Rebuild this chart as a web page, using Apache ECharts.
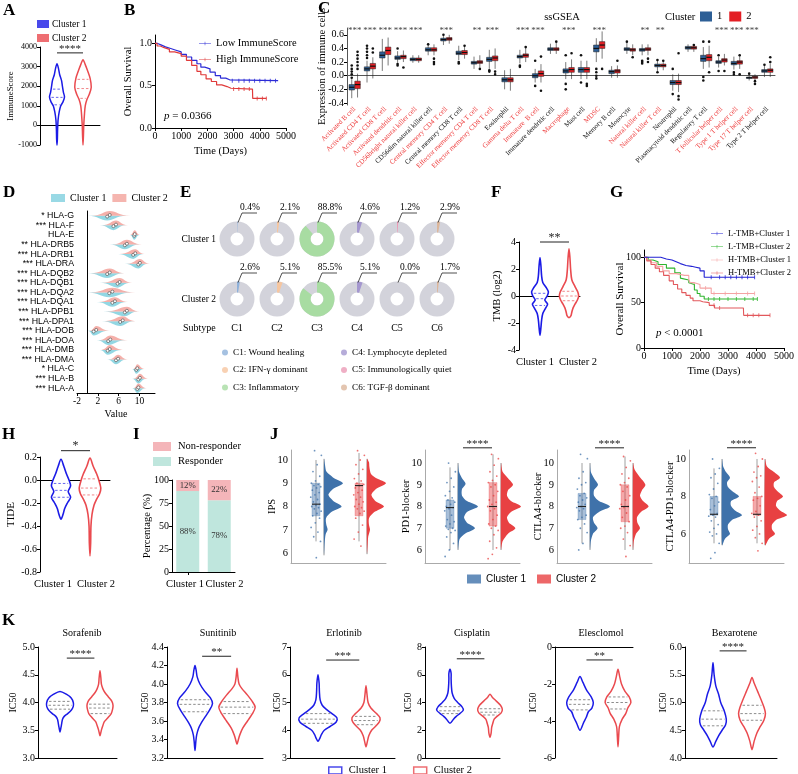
<!DOCTYPE html>
<html><head><meta charset="utf-8">
<script src="https://cdn.jsdelivr.net/npm/echarts@6/dist/echarts.min.js"></script>
<style>html,body{margin:0;padding:0;background:#fff}#c{width:798px;height:774px}</style>
</head><body><div id="c"></div>
<script>
// ================= DATA =================
const GROUPS = ['Cluster 1', 'Cluster 2'];
// A: ImmuneScore violins  [value, relative density]
const A_c1_profile = [[3150,0],[2900,0.2],[2600,0.35],[2300,0.6],[2000,0.72],[1700,0.85],[1450,1.0],[1200,0.8],[1000,0.5],[700,0.3],[300,0.15],[-200,0.08],[-700,0.05],[-1000,0]];
const A_c2_profile = [[3350,0],[3100,0.3],[2800,0.6],[2400,0.95],[1950,1.1],[1600,0.85],[1300,0.5],[1000,0.3],[600,0.2],[0,0.1],[-500,0.06],[-1000,0]];
const A_c1_quart = [1050,1430,1850];
const A_c2_quart = [1380,1880,2350];
const A_ticks = [-1000,0,1000,2000,3000,4000];
const A_sig = '****';
// B: KM curves  [time, survival]
const B_names = ['Low ImmuneScore','High ImmuneScore'];
const B_low = [[0,1],[100,0.98],[250,0.96],[400,0.94],[600,0.92],[800,0.9],[1000,0.87],[1200,0.84],[1400,0.8],[1600,0.76],[1750,0.72],[1900,0.7],[2100,0.66],[2300,0.62],[2500,0.59],[2700,0.57],[2850,0.56],[4700,0.56]];
const B_high = [[0,1],[80,0.97],[200,0.95],[350,0.93],[550,0.9],[750,0.88],[1000,0.85],[1200,0.8],[1400,0.74],[1600,0.67],[1750,0.63],[1950,0.58],[2150,0.55],[2350,0.51],[2550,0.49],[2750,0.47],[2900,0.46],[3720,0.46],[3730,0.35],[4250,0.35]];
const B_low_censor = [2950,3200,3400,3600,3800,4000,4200,4400,4600];
const B_high_censor = [3000,3200,3400,3600,3900,4100,4250];
const B_pval = '0.0366';
// C: ssGSEA boxplots [min,q1,median,q3,max]
const C_cats = ['Activated B cell','Activated CD4 T cell','Activated CD8 T cell','Activated dendritic cell','CD56bright natural killer cell','CD56dim natural killer cell','Central memory CD4 T cell','Central memory CD8 T cell','Effector memeory CD4 T cell','Effector memeory CD8 T cell','Eosinophil','Gamma delta T cell','Immature  B cell','Immature dendritic cell','Macrophage','Mast cell','MDSC','Memory B cell','Monocyte','Natural killer cell','Natural killer T cell','Neutrophil','Plasmacytoid dendritic cell','Regulatory T cell','T follicular helper cell','Type 1 T helper cell','Type 17 T helper cell','Type 2 T helper cell'];
const C_sig = ['***','***','***','***','***','','***','','**','***','','***','***','','***','','***','','','**','**','','','','***','***','***',''];
const C_c1 = [[-0.33,-0.21,-0.17,-0.13,-0.05],[-0.1,0.07,0.1,0.13,0.22],[0.07,0.26,0.3,0.35,0.54],[0.19,0.24,0.26,0.29,0.36],[0.19,0.22,0.24,0.26,0.3],[0.3,0.36,0.38,0.41,0.47],[0.45,0.51,0.53,0.55,0.6],[0.23,0.31,0.33,0.36,0.44],[0.1,0.17,0.19,0.21,0.28],[0.1,0.21,0.24,0.27,0.38],[-0.2,-0.09,-0.06,-0.03,0.08],[0.18,0.26,0.28,0.3,0.38],[-0.1,-0.03,0.0,0.03,0.1],[0.32,0.37,0.39,0.41,0.47],[-0.05,0.04,0.07,0.1,0.2],[-0.05,0.05,0.09,0.12,0.22],[0.2,0.35,0.4,0.45,0.55],[-0.03,0.03,0.06,0.08,0.14],[0.32,0.37,0.39,0.41,0.48],[0.3,0.36,0.38,0.4,0.46],[0.07,0.13,0.15,0.17,0.22],[-0.22,-0.13,-0.1,-0.07,0.02],[0.35,0.39,0.41,0.43,0.46],[0.1,0.21,0.25,0.3,0.42],[0.12,0.18,0.2,0.22,0.28],[0.09,0.16,0.18,0.21,0.28],[-0.07,-0.04,-0.03,-0.02,0.01],[-0.02,0.05,0.07,0.09,0.16]];
const C_c2 = [[-0.32,-0.19,-0.13,-0.08,0.03],[-0.04,0.1,0.14,0.18,0.27],[0.15,0.31,0.37,0.42,0.56],[0.2,0.25,0.28,0.3,0.37],[0.19,0.22,0.24,0.26,0.3],[0.3,0.36,0.38,0.41,0.46],[0.47,0.52,0.54,0.56,0.6],[0.25,0.31,0.34,0.37,0.44],[0.12,0.18,0.2,0.22,0.3],[0.1,0.22,0.26,0.29,0.4],[-0.22,-0.09,-0.06,-0.03,0.1],[0.2,0.27,0.3,0.32,0.42],[-0.1,-0.01,0.03,0.07,0.17],[0.32,0.37,0.39,0.41,0.48],[-0.05,0.05,0.09,0.12,0.24],[-0.05,0.05,0.09,0.12,0.22],[0.25,0.4,0.45,0.5,0.65],[-0.03,0.04,0.07,0.09,0.15],[0.3,0.36,0.38,0.4,0.46],[0.3,0.37,0.39,0.41,0.46],[0.08,0.13,0.15,0.17,0.22],[-0.24,-0.13,-0.1,-0.07,0.03],[0.35,0.39,0.41,0.43,0.46],[0.12,0.22,0.27,0.31,0.44],[0.15,0.2,0.23,0.25,0.32],[0.1,0.17,0.2,0.22,0.29],[-0.08,-0.04,-0.02,-0.01,0.02],[-0.02,0.05,0.08,0.1,0.18]];
const C_out1 = [[0,-0.03],[0,0.02],[0,0.06],[0,0.1],[0,0.15],[1,0.26],[1,0.3],[1,0.35],[1,0.4],[1,0.44],[3,0.4],[3,0.17],[3,0.15],[5,0.46],[6,0.6],[7,0.18],[7,0.2],[9,0.06],[9,0.08],[11,0.13],[11,0.15],[12,0.22],[12,-0.15],[14,0.3],[14,-0.12],[14,-0.2],[15,0.3],[15,-0.1],[16,0.1],[16,0.05],[16,0.0],[16,-0.04],[18,0.5],[19,0.22],[19,0.2],[19,0.18],[20,0.23],[20,0.05],[21,-0.27],[21,0.1],[23,0.5],[23,-0.02],[23,-0.07],[24,0.3],[24,0.07],[25,0.02],[25,0.05],[26,0.03],[27,0.16]];
const C_out2 = [[0,0.1],[0,0.15],[0,0.2],[0,0.25],[0,0.3],[0,0.35],[1,0.34],[1,0.4],[3,0.12],[5,0.2],[5,0.17],[5,0.25],[7,0.44],[8,0.1],[9,0.02],[9,0.06],[11,0.42],[12,0.28],[12,-0.22],[13,0.5],[14,0.33],[15,-0.15],[15,-0.12],[16,0.1],[17,0.22],[18,0.27],[19,0.2],[19,0.25],[20,0.22],[21,0.33],[21,-0.35],[21,-0.3],[22,0.45],[23,0.5],[23,0.05],[24,0.07],[25,0.02],[25,0.3],[26,-0.12],[26,-0.08],[27,0.27],[27,0.2]];
const C_ticks = [-0.4,-0.2,0.0,0.2,0.4,0.6];
// D: HLA split violins [low, peak, high]
const D_genes = ['HLA-G','HLA-F','HLA-E','HLA-DRB5','HLA-DRB1','HLA-DRA','HLA-DQB2','HLA-DQB1','HLA-DQA2','HLA-DQA1','HLA-DPB1','HLA-DPA1','HLA-DOB','HLA-DOA','HLA-DMB','HLA-DMA','HLA-C','HLA-B','HLA-A'];
const D_sig = ['*','***','','**','***','***','***','***','***','***','***','***','***','***','***','***','*','***','***'];
const D_c1 = [[0.1,3.8,7.5],[2.4,5.0,7.4],[8.2,9.0,10.0],[4.3,7.2,10.0],[5.9,8.8,10.8],[7.2,9.8,11.6],[0.1,3.8,7.0],[2.4,5.8,8.3],[-0.1,4.2,8.6],[1.8,4.8,7.5],[3.0,7.2,9.7],[2.8,6.3,9.0],[0.1,1.2,4.0],[1.8,4.0,7.4],[2.4,3.9,6.5],[3.8,5.5,7.5],[8.6,9.4,10.8],[8.6,9.8,11.3],[8.6,9.6,11.2]];
const D_c2 = [[0.8,4.3,8.2],[2.8,5.5,7.8],[8.2,9.1,10.1],[4.8,7.6,10.5],[6.2,9.2,11.0],[7.6,10.1,12.0],[0.6,4.3,7.2],[2.8,6.2,8.6],[0.4,4.8,9.2],[2.2,5.3,7.8],[3.5,7.6,10.0],[3.3,6.8,9.2],[0.4,1.7,4.3],[2.2,4.4,7.8],[2.7,4.3,6.8],[4.1,5.9,7.8],[8.8,9.6,11.0],[8.9,10.1,11.6],[8.8,9.8,11.4]];
const D_ticks = [-2,2,6,10];
// E: immune subtypes (%)
const E_subtypes = ['C1','C2','C3','C4','C5','C6'];
const E_names = ['C1: Wound healing','C2: IFN-γ dominant','C3: Inflammatory','C4: Lymphocyte depleted','C5: Immunologically quiet','C6: TGF-β dominant'];
const E_c1 = [0.4, 2.1, 88.8, 4.6, 1.2, 2.9];
const E_c2 = [2.6, 5.1, 85.5, 5.1, 0.0, 1.7];
// F: TMB violins
const F_c1_profile = [[2.85,0],[2.2,0.12],[1.5,0.2],[1.0,0.35],[0.6,0.8],[0.3,1.05],[0,0.9],[-0.3,0.6],[-0.6,0.95],[-0.9,0.7],[-1.3,0.35],[-1.8,0.2],[-2.3,0.12],[-2.9,0]];
const F_c2_profile = [[3.5,0],[2.8,0.12],[2.0,0.2],[1.2,0.35],[0.7,0.75],[0.3,1.1],[0,1.2],[-0.3,1.05],[-0.6,0.75],[-0.9,0.5],[-1.2,0.35],[-1.45,0.25],[-1.6,0]];
const F_c1_quart = [-0.7,-0.2,0.2];
const F_c2_quart = [-0.35,0,0.35];
const F_ticks = [-4,-2,0,2,4];
const F_sig = '**';
// G: KM curves
const G_names = ['L-TMB+Cluster 1','L-TMB+Cluster 2','H-TMB+Cluster 1','H-TMB+Cluster 2'];
const G_L1 = [[0,100],[500,100],[600,98],[800,97],[1000,95],[1150,93],[1300,91],[1500,90],[1700,89],[1850,88],[2000,85],[2150,78],[3950,78]];
const G_L2 = [[0,100],[150,97],[320,95],[500,92],[800,88],[1100,83],[1300,77],[1340,75],[1600,72],[1650,70],[1800,64],[1900,60],[2000,57],[2150,54],[4050,54]];
const G_H1 = [[0,100],[100,97],[250,94],[450,90],[670,85],[900,82],[1150,80],[1450,80],[1600,75],[1650,72],[1800,70],[2000,66],[2400,60],[3950,60]];
const G_H2 = [[0,100],[100,96],[250,92],[400,88],[550,84],[700,80],[900,74],[1050,70],[1200,65],[1350,61],[1500,58],[1650,55],[1750,52],[2000,51],[2100,50],[2330,47],[2520,44],[3550,44],[3560,36],[4500,36]];
const G_censor = [[2400,2700,2900,3100,3300,3500,3700,3950],[2300,2500,2700,3000,3300,3600,3900,4050],[1800,2200,2500,2900,3300,3700,3950],[2500,2700,3700,3900,4100,4500]];
const G_pval = '0.0001';
// H: TIDE violins
const H_c1_profile = [[0.18,0],[0.12,0.35],[0.05,0.7],[0,1.0],[-0.05,1.2],[-0.1,0.9],[-0.15,1.2],[-0.2,0.8],[-0.25,0.45],[-0.3,0.25],[-0.34,0]];
const H_c2_profile = [[0.19,0],[0.12,0.4],[0.05,0.85],[0,1.1],[-0.07,1.35],[-0.12,1.2],[-0.17,0.8],[-0.22,0.5],[-0.3,0.25],[-0.4,0.12],[-0.55,0.08],[-0.66,0]];
const H_c1_quart = [-0.15,-0.09,-0.03];
const H_c2_quart = [-0.13,-0.07,0.01];
const H_ticks = [-0.8,-0.6,-0.4,-0.2,0.0,0.2];
const H_sig = '*';
// I: responders (%)
const I_responder = [88, 78];
const I_nonresponder = [12, 22];
const I_ticks = [0,25,50,75,100];
// J: raincloud
const J_names = ['IPS','PD1-blocker','CTLA4-blocker','CTLA4-PD1-blocker'];
const J_sig = ['','****','****','****'];
const J_ticks = [[6,7,8,9,10],[6,7,8,9,10],[6,7,8,9,10],[6,8,10]];
const J_c1_profile = [
 [[10.05,0],[9.8,0.05],[9.5,0.12],[9.25,0.45],[9.0,0.95],[8.75,0.45],[8.5,0.22],[8.25,0.45],[8.0,0.88],[7.75,0.35],[7.5,0.1],[7.2,0.12],[7.0,0.18],[6.8,0.08],[6.4,0.03],[5.9,0]],
 [[10.0,0],[9.6,0.05],[9.3,0.2],[9.05,0.38],[8.8,0.2],[8.5,0.2],[8.25,0.45],[8.0,1.0],[7.75,0.45],[7.5,0.3],[7.25,0.45],[7.0,0.85],[6.75,0.35],[6.5,0.08],[6.0,0]],
 [[10.0,0],[9.6,0.04],[9.3,0.2],[9.0,0.4],[8.75,0.2],[8.5,0.2],[8.25,0.45],[8.0,1.0],[7.75,0.45],[7.5,0.15],[7.25,0.2],[7.0,0.38],[6.75,0.15],[6.4,0.04],[6.0,0]],
 [[10.0,0],[9.6,0.06],[9.3,0.2],[9.0,0.4],[8.75,0.25],[8.5,0.3],[8.25,0.55],[8.0,0.85],[7.75,0.45],[7.5,0.45],[7.25,0.65],[7.0,1.0],[6.75,0.5],[6.5,0.3],[6.25,0.3],[6.0,0.4],[5.75,0.15],[5.4,0]]];
const J_c2_profile = [
 [[10.05,0],[9.9,0.1],[9.7,0.12],[9.4,0.2],[9.2,0.5],[9.0,0.95],[8.75,0.45],[8.5,0.22],[8.25,0.4],[8.0,0.85],[7.75,0.35],[7.5,0.1],[7.2,0.1],[7.0,0.15],[6.7,0.06],[6.3,0.03],[5.95,0]],
 [[10.0,0],[9.6,0.08],[9.3,0.35],[9.0,0.6],[8.75,0.35],[8.5,0.3],[8.25,0.5],[8.0,1.0],[7.75,0.5],[7.5,0.3],[7.25,0.4],[7.0,0.72],[6.75,0.35],[6.4,0.08],[6.0,0]],
 [[10.0,0],[9.7,0.08],[9.4,0.3],[9.0,0.62],[8.75,0.45],[8.5,0.35],[8.25,0.5],[8.0,0.78],[7.75,0.4],[7.5,0.2],[7.25,0.22],[7.0,0.35],[6.75,0.15],[6.4,0.04],[6.0,0]],
 [[10.0,0],[9.6,0.1],[9.3,0.45],[9.0,0.75],[8.75,0.45],[8.5,0.45],[8.25,0.65],[8.0,0.9],[7.75,0.6],[7.5,0.55],[7.25,0.75],[7.0,1.1],[6.75,0.55],[6.5,0.35],[6.25,0.35],[6.0,0.5],[5.75,0.2],[5.4,0]]];
const J_c1_box = [[6.5,7.6,8.1,9.0,10.0],[6.0,7.0,7.95,8.3,9.8],[6.3,7.4,8.0,8.6,10.0],[5.5,7.0,7.05,8.0,9.5]];
const J_c2_box = [[6.5,7.6,8.9,9.0,10.3],[6.0,7.1,8.0,9.1,10.4],[6.0,7.3,8.0,9.0,10.3],[5.5,7.0,7.05,8.0,10.0]];
const J_c1_pts = [
 [10.4,10.2,9.8,9.5,9.3,9.1,9.0,8.95,8.9,8.85,8.8,8.7,8.6,8.5,8.4,8.3,8.2,8.1,8.05,8.0,7.95,7.9,7.8,7.7,7.6,7.5,7.3,7.1,6.9,6.7,6.5,5.8],
 [10.0,9.6,9.3,9.1,8.9,8.7,8.5,8.4,8.3,8.2,8.1,8.0,7.95,7.9,7.8,7.6,7.4,7.3,7.2,7.1,7.0,6.95,6.9,6.8,6.6,6.3,6.0,5.7],
 [10.4,10.2,9.6,9.3,9.1,9.0,8.8,8.6,8.5,8.4,8.3,8.2,8.1,8.0,7.95,7.9,7.8,7.6,7.5,7.4,7.2,7.0,6.8,6.3,6.0],
 [10.0,9.5,9.2,9.0,8.7,8.4,8.1,8.0,7.9,7.7,7.5,7.3,7.1,7.0,6.95,6.9,6.7,6.5,6.3,6.1,6.0,5.9,5.5,5.0,4.7]];
const J_c2_pts = [
 [10.4,10.2,10.0,9.8,9.6,9.4,9.2,9.1,9.0,8.95,8.9,8.8,8.7,8.6,8.5,8.4,8.3,8.2,8.1,8.0,7.95,7.9,7.8,7.7,7.5,7.2,6.9,6.6,6.3],
 [10.4,10.2,9.9,9.6,9.4,9.2,9.1,9.0,8.9,8.7,8.5,8.3,8.2,8.1,8.0,7.9,7.8,7.6,7.4,7.2,7.1,7.0,6.9,6.7,6.4,6.1,5.8,5.6],
 [10.3,10.1,9.8,9.5,9.3,9.1,9.0,8.9,8.7,8.5,8.3,8.1,8.0,7.95,7.9,7.7,7.5,7.3,7.1,7.0,6.8,6.5,6.2,5.7],
 [10.3,10.0,9.6,9.3,9.1,9.0,8.8,8.5,8.2,8.0,7.9,7.8,7.5,7.2,7.1,7.0,6.9,6.7,6.4,6.2,6.0,5.8,5.5,5.1]];
const J_sigY = [null, 10.7, 10.7, 10.6];
// K: drug IC50 violins
const K_drugs = ['Sorafenib','Sunitinib','Erlotinib','Cisplatin','Elesclomol','Bexarotene'];
const K_sig = ['****','**','***','****','**','****'];
const K_sigY = [4.8, 4.3, 6.53, 7.15, -0.7, 5.93];
const K_ticks = [[3.0,3.5,4.0,4.5,5.0],[3.2,3.4,3.6,3.8,4.0,4.2,4.4],[3,4,5,6,7],[0,2,4,6,8],[-6,-4,-2,0],[4.0,4.5,5.0,5.5,6.0]];
const K_c1_profile = [
 [[4.2,0],[4.15,0.45],[4.08,0.8],[4.0,0.95],[3.93,0.95],[3.86,0.8],[3.8,0.55],[3.75,0.3],[3.7,0.18],[3.62,0.12],[3.55,0.07],[3.47,0]],
 [[4.2,0],[4.15,0.08],[4.08,0.15],[4.0,0.35],[3.92,0.7],[3.85,1.1],[3.79,1.25],[3.72,1.05],[3.65,0.75],[3.58,0.45],[3.52,0.25],[3.45,0.12],[3.38,0.06],[3.28,0]],
 [[6.0,0],[5.7,0.08],[5.4,0.1],[5.1,0.15],[4.9,0.3],[4.75,0.6],[4.6,1.0],[4.45,1.35],[4.3,1.3],[4.15,0.9],[4.0,0.45],[3.85,0.25],[3.7,0.12],[3.6,0]],
 [[6.4,0],[6.1,0.08],[5.7,0.08],[5.2,0.1],[4.7,0.15],[4.3,0.3],[4.0,0.55],[3.7,0.85],[3.45,0.95],[3.2,0.7],[3.0,0.45],[2.8,0.25],[2.5,0]],
 [[-1.6,0],[-1.9,0.2],[-2.3,0.45],[-2.7,0.8],[-3.0,0.95],[-3.3,0.85],[-3.5,0.6],[-3.8,0.45],[-4.1,0.25],[-4.5,0]],
 [[5.72,0],[5.5,0.08],[5.3,0.2],[5.15,0.4],[5.0,0.55],[4.85,0.8],[4.7,0.95],[4.6,0.9],[4.5,0.65],[4.4,0.4],[4.3,0.2],[4.2,0]]];
const K_c2_profile = [
 [[4.57,0],[4.45,0.06],[4.33,0.1],[4.25,0.2],[4.18,0.35],[4.1,0.6],[4.02,0.85],[3.95,0.93],[3.88,0.9],[3.8,0.8],[3.72,0.55],[3.65,0.3],[3.58,0.2],[3.52,0.12],[3.45,0.05],[3.4,0]],
 [[4.17,0],[4.08,0.06],[4.0,0.15],[3.95,0.35],[3.88,0.75],[3.82,1.05],[3.75,1.3],[3.68,1.1],[3.6,0.75],[3.52,0.4],[3.45,0.2],[3.4,0.1],[3.35,0]],
 [[5.6,0],[5.3,0.07],[5.0,0.15],[4.8,0.35],[4.6,0.75],[4.45,1.0],[4.3,0.95],[4.15,0.7],[4.0,0.4],[3.8,0.2],[3.6,0.1],[3.4,0]],
 [[4.6,0],[4.4,0.15],[4.1,0.45],[3.8,0.75],[3.5,0.88],[3.25,0.8],[3.0,0.5],[2.8,0.3],[2.5,0.2],[2.2,0.12],[1.8,0.08],[1.5,0]],
 [[-1.2,0],[-1.6,0.12],[-2.0,0.25],[-2.4,0.5],[-2.7,0.8],[-3.0,0.92],[-3.3,0.7],[-3.6,0.55],[-3.9,0.3],[-4.3,0.1],[-4.8,0.05],[-5.4,0]],
 [[5.45,0],[5.35,0.15],[5.2,0.4],[5.05,0.65],[4.92,0.85],[4.8,0.96],[4.68,0.85],[4.55,0.55],[4.45,0.35],[4.3,0.15],[4.15,0]]];
const K_c1_quart = [[3.88,3.95,4.02],[3.7,3.78,3.83],[4.25,4.4,4.6],[3.2,3.4,3.7],[-3.4,-3.1,-2.85],[4.58,4.7,4.85]];
const K_c2_quart = [[3.8,3.9,3.97],[3.68,3.75,3.81],[4.2,4.35,4.5],[3.1,3.3,3.55],[-3.35,-3.0,-2.7],[4.68,4.8,4.95]];

// ================= HELPERS =================
const SERIF = '"Liberation Serif","Times New Roman",serif';
const SANS = '"Liberation Sans",Arial,sans-serif';
const BLUE = '#1b1be6', RED = '#ea4a4f';
function merge(...objs){const out={};for(const o of objs){if(!o)continue;for(const k in o){const v=o[k];
 if(v&&typeof v==='object'&&!Array.isArray(v)&&out[k]&&typeof out[k]==='object'&&!Array.isArray(out[k]))out[k]=merge(out[k],v);else out[k]=v;}}return out;}
const grids=[],xAxes=[],yAxes=[],series=[],legends=[],graphics=[];
function axisBase(){return {axisLine:{show:true,lineStyle:{color:'#000',width:1}},axisTick:{show:true,length:3,lineStyle:{color:'#000'}},
 axisLabel:{color:'#000',fontFamily:SERIF,fontSize:10,margin:3,formatter:v=>String(v)},splitLine:{show:false},nameMoveOverlap:false,
 nameTextStyle:{fontFamily:SERIF,fontSize:10.5,color:'#000'},nameLocation:'middle'};}
function addGrid(rect,xa,ya){grids.push(rect);const gi=grids.length-1;
 xAxes.push(merge(axisBase(),xa,{gridIndex:gi}));yAxes.push(merge(axisBase(),ya,{gridIndex:gi}));
 return {x:xAxes.length-1,y:yAxes.length-1};}
function catRange(L,p1,p2,R){const u=p2-p1;return {min:1-(p1-L)/u,max:1+(R-p1)/u};}
function interp(prof,v){for(let k=0;k<prof.length-1;k++){const a=prof[k],b=prof[k+1];if(v<=a[0]&&v>=b[0])return a[1]+(b[1]-a[1])*(a[0]-v)/(a[0]-b[0]);}return 0;}
function stepAt(curve,t){let s=curve[0][1];for(const p of curve){if(p[0]<=t)s=p[1];}return s;}
function fmt(d){return v=>Number(v).toFixed(d);}
function violins(ax,items,scale,qColor,lw){
 series.push({type:'custom',xAxisIndex:ax.x,yAxisIndex:ax.y,silent:true,clip:false,z:3,
  data:items.map(it=>[it.pos,it.prof[0][0]]),
  renderItem:(p,api)=>{const it=items[p.dataIndex];const cx=api.coord([it.pos,it.prof[0][0]])[0];const Y=v=>api.coord([it.pos,v])[1];
   const R=it.prof.map(q=>[cx+q[1]*scale,Y(q[0])]);const L=it.prof.slice(1,-1).reverse().map(q=>[cx-q[1]*scale,Y(q[0])]);
   const ch=[{type:'polygon',shape:{points:R.concat(L),smooth:0.3},style:{fill:'#fff',stroke:it.color,lineWidth:lw||1.6}}];
   (it.q||[]).forEach(v=>{const w=interp(it.prof,v)*scale-1.8;const y=Y(v);if(w>0)ch.push({type:'line',shape:{x1:cx-w,y1:y,x2:cx+w,y2:y},style:{stroke:qColor||it.color,lineWidth:0.8,lineDash:[2.5,2],opacity:0.85}});});
   return {type:'group',children:ch};}});}
function sigSeries(ax,list,fs){
 series.push({type:'custom',xAxisIndex:ax.x,yAxisIndex:ax.y,silent:true,clip:false,z:4,data:list.map(s=>[s.x1,s.y]),
  renderItem:(p,api)=>{const s=list[p.dataIndex];const a=api.coord([s.x1,s.y]),b=api.coord([s.x2,s.y]);
   return {type:'group',children:[{type:'line',shape:{x1:a[0],y1:a[1],x2:b[0],y2:b[1]},style:{stroke:'#222',lineWidth:1}},
    {type:'text',style:{text:s.text,x:(a[0]+b[0])/2,y:a[1]+1.5,align:'center',verticalAlign:'bottom',fontSize:fs||12,fontFamily:SERIF,fill:'#222'}}]};}});}
function dummy(name,color,ax){series.push({type:'scatter',name,data:[],xAxisIndex:ax.x,yAxisIndex:ax.y,itemStyle:{color}});}
const stripName=n=>n.replace(/^[A-Z]\|/,'');
function legend(o){legends.push(merge({selectedMode:false,formatter:stripName,padding:0,textStyle:{fontFamily:SERIF,fontSize:10,color:'#000',padding:[0,0,0,-2]}},o));}
function txt(text,x,y,o){graphics.push({type:'text',x,y,silent:true,style:merge({text,fill:'#000',fontFamily:SERIF,fontSize:10,align:'left',verticalAlign:'middle'},o)});}
function groupLabels(xs,y,fs){GROUPS.forEach((g,i)=>txt(g,xs[i],y,{align:'center',fontSize:fs||10.5}));}

// ================= PANEL A =================
{ const r=catRange(40,57,83,100);
 const ax=addGrid({left:40,top:47,width:60,height:98},
  {type:'value',min:r.min,max:r.max,axisLabel:{show:false},axisTick:{show:false}},
  {type:'value',min:-1000,max:4000,interval:1000,axisLabel:{fontSize:8,customValues:A_ticks},axisTick:{customValues:A_ticks},name:'ImmuneScore',nameGap:25,nameTextStyle:{fontSize:8.8}});
 violins(ax,[{pos:1,prof:A_c1_profile,q:A_c1_quart,color:BLUE},{pos:2,prof:A_c2_profile,q:A_c2_quart,color:RED}],7.5,null,1.5);
 sigSeries(ax,[{x1:1,x2:2,y:3700,text:A_sig}],11);
 dummy('A|'+GROUPS[0],BLUE,ax);dummy('A|'+GROUPS[1],RED,ax);
 legend({data:['A|'+GROUPS[0],'A|'+GROUPS[1]],left:37,top:19,orient:'vertical',itemWidth:12,itemHeight:8,itemGap:4,icon:'rect',textStyle:{fontSize:9.5}});
}
// ================= PANEL B =================
{ const ax=addGrid({left:155,top:35,width:131,height:93},
  {type:'value',min:0,max:5000,interval:1000,name:'Time (Days)',nameGap:18,axisLabel:{fontSize:10}},
  {type:'value',min:0,max:1.1,axisLabel:{customValues:[0,0.5,1],formatter:fmt(1)},axisTick:{customValues:[0,0.5,1]},name:'Overall Survival',nameGap:21});
 const cols=['#2b2bd6','#e03a3a'];
 [B_low,B_high].forEach((c,i)=>{
  series.push({type:'line',name:B_names[i],xAxisIndex:ax.x,yAxisIndex:ax.y,step:'end',data:c,showSymbol:false,lineStyle:{color:cols[i],width:1.2},itemStyle:{color:cols[i]},z:3});
  const cz=[B_low_censor,B_high_censor][i];
  series.push({type:'scatter',xAxisIndex:ax.x,yAxisIndex:ax.y,data:cz.map(t=>[t,stepAt(c,t)]),symbol:'rect',symbolSize:[1,4],itemStyle:{color:cols[i]},silent:true});
 });
 legend({data:B_names,left:199,top:38,orient:'vertical',itemWidth:12,itemHeight:6,itemGap:5,icon:'path://M0,4L24,4L24,5L0,5ZM11.5,1L12.5,1L12.5,8L11.5,8Z',textStyle:{fontSize:10.5,padding:[0,0,0,0]}});
 txt('{i|p} = '+B_pval,164,116,{fontSize:11,rich:{i:{fontStyle:'italic',fontFamily:SERIF,fontSize:11}}});
}
// ================= PANEL C =================
let axC;
{ axC=addGrid({left:347,top:28,width:428,height:77},
  {type:'category',data:C_cats,axisTick:{show:false},axisLabel:{rotate:45,fontSize:7,margin:3,interval:0,color:(v,i)=>C_sig[i]?'#ee3b3b':'#111'},axisLine:{lineStyle:{color:'#555'}}},
  {type:'value',min:-0.43,max:0.70,axisLabel:{customValues:C_ticks,formatter:fmt(1),fontSize:10},axisTick:{customValues:C_ticks},name:'Expression of immune cells',nameGap:19,axisLine:{lineStyle:{color:'#555'}}});
 const cols=['#2d5f96','#e31e24'];
 [C_c1,C_c2].forEach((arr,g)=>{
  const off=g===0?-0.19:0.19;
  series.push({type:'custom',name:'C|'+(g+1),xAxisIndex:axC.x,yAxisIndex:axC.y,silent:true,z:3,itemStyle:{color:cols[g]},
   data:arr.map((b,i)=>[i,b[2]]),
   renderItem:(p,api)=>{const i=p.dataIndex,b=arr[i];const bw=api.size([1,0])[0];const cx=api.coord([i,0])[0]+off*bw;const w=bw*0.36;const Y=v=>api.coord([i,v])[1];
    return {type:'group',children:[
     {type:'line',shape:{x1:cx,y1:Y(b[0]),x2:cx,y2:Y(b[4])},style:{stroke:'#222',lineWidth:0.6}},
     {type:'rect',shape:{x:cx-w/2,y:Y(b[3]),width:w,height:Y(b[1])-Y(b[3])},style:{fill:cols[g],stroke:'#222',lineWidth:0.5}},
     {type:'line',shape:{x1:cx-w/2,y1:Y(b[2]),x2:cx+w/2,y2:Y(b[2])},style:{stroke:'#111',lineWidth:1.2}}]};}});
  const outs=[C_out1,C_out2][g];
  series.push({type:'custom',xAxisIndex:axC.x,yAxisIndex:axC.y,silent:true,z:4,data:outs.map(o=>[o[0],o[1]]),
   renderItem:(p,api)=>{const o=outs[p.dataIndex];const bw=api.size([1,0])[0];const c=api.coord([o[0],o[1]]);
    return {type:'circle',shape:{cx:c[0]+off*bw,cy:c[1],r:1.3},style:{fill:'#111'}};}});
 });
 // significance stars on top axis
 xAxes.push(merge(axisBase(),{gridIndex:grids.length-1,type:'category',position:'top',data:C_cats,axisLine:{show:false},axisTick:{show:false},
  axisLabel:{interval:0,margin:-7,fontSize:9,color:'#444',formatter:(v,i)=>C_sig[i]}}));
 legend({data:['C|1','C|2'],left:700,top:11,itemWidth:12,itemHeight:10,itemGap:7,icon:'rect',textStyle:{fontSize:10.5,padding:[0,0,0,0]}});
 txt('Cluster',665,17,{fontSize:10.5});
 txt('ssGSEA',562,17,{fontSize:10.5,align:'center'});
}
// ================= PANEL D =================
{ const ax=addGrid({left:77,top:211,width:78,height:182},
  {type:'value',min:-2,max:13,axisLabel:{customValues:D_ticks,fontSize:9.5},axisTick:{customValues:D_ticks},name:'Value',nameGap:16,nameTextStyle:{fontSize:10}},
  {type:'category',data:D_genes,inverse:true,axisTick:{show:false},axisLabel:{interval:0,fontFamily:SANS,fontSize:8.8,margin:3,formatter:(v,i)=>(D_sig[i]?D_sig[i]+' ':'')+v}});
 const cC='#7fd0de',cS='#f3a29b';
 series.push({type:'custom',xAxisIndex:ax.x,yAxisIndex:ax.y,silent:true,z:3,data:D_genes.map((g,i)=>[D_c1[i][1],i]),
  renderItem:(p,api)=>{const i=p.dataIndex;const y0=api.coord([0,i])[1];const h=api.size([0,1])[1]*0.5;
   const bump=(t,dir)=>{const a=api.coord([t[0],i])[0],m=api.coord([t[1],i])[0],b=api.coord([t[2],i])[0];const yy=y0+dir*h;
    return `M${a},${y0}C${a+(m-a)*0.55},${y0} ${m-(m-a)*0.35},${yy} ${m},${yy}C${m+(b-m)*0.35},${yy} ${b-(b-m)*0.55},${y0} ${b},${y0}Z`;};
   const m1=api.coord([D_c1[i][1],i])[0],m2=api.coord([D_c2[i][1],i])[0];
   return {type:'group',children:[
    {type:'path',shape:{pathData:bump(D_c1[i],1)},style:{fill:cC,opacity:0.85}},
    {type:'path',shape:{pathData:bump(D_c2[i],-1)},style:{fill:cS,opacity:0.85}},
    {type:'circle',shape:{cx:m1,cy:y0+0.8,r:1.5},style:{fill:'#fff',stroke:'#444',lineWidth:0.6}},
    {type:'circle',shape:{cx:m2,cy:y0-0.8,r:1.5},style:{fill:'#fff',stroke:'#444',lineWidth:0.6}}]};}});
 dummy('D|'+GROUPS[0],cC,ax);dummy('D|'+GROUPS[1],cS,ax);
 legend({data:['D|'+GROUPS[0],'D|'+GROUPS[1]],left:51,top:193,itemWidth:14,itemHeight:8,itemGap:6,icon:'rect',textStyle:{fontSize:10,padding:[0,0,0,0]}});
}
// ================= PANEL E =================
{ const ax=addGrid({left:217,top:239,width:240,height:60},
  {type:'category',data:E_subtypes,axisLine:{show:false},axisTick:{show:false},axisLabel:{margin:24,fontSize:10}},
  {type:'category',data:GROUPS,inverse:true,boundaryGap:false,axisLine:{show:false},axisTick:{show:false},axisLabel:{margin:1,fontSize:9.5}});
 const ecol=['#8fb1da','#f6c6a0','#a8dca2','#a497cf','#eb9bb6','#dcb79c'];
 const cells=[];E_c1.forEach((v,c)=>cells.push([c,0,v]));E_c2.forEach((v,c)=>cells.push([c,1,v]));
 series.push({type:'custom',xAxisIndex:ax.x,yAxisIndex:ax.y,silent:true,clip:false,data:cells,
  renderItem:(p,api)=>{const d=cells[p.dataIndex];const c=api.coord([d[0],d[1]]);const cx=c[0],cy=c[1];const ro=17.5,ri=6.5;
   const ch=[{type:'sector',shape:{cx,cy,r:ro,r0:ri,startAngle:0,endAngle:Math.PI*2},style:{fill:'#d3d3db'}}];
   if(d[2]>0)ch.push({type:'sector',shape:{cx,cy,r:ro,r0:ri,startAngle:-Math.PI/2,endAngle:-Math.PI/2+Math.max(d[2]/100*Math.PI*2,0.03),clockwise:true},style:{fill:ecol[d[0]]}});
   ch.push({type:'polyline',shape:{points:[[cx+1,cy-ro+1],[cx+5,cy-26],[cx+20,cy-26]]},style:{stroke:'#222',lineWidth:0.8,fill:null}});
   ch.push({type:'text',style:{text:d[2].toFixed(1)+'%',x:cx+13,y:cy-27,align:'center',verticalAlign:'bottom',fontSize:9.5,fontFamily:SERIF,fill:'#000'}});
   return {type:'group',children:ch};}});
 E_names.forEach((n,i)=>dummy(n,ecol[i],ax));
 legend({data:E_names.slice(0,3),left:222,top:348,orient:'vertical',itemWidth:6,itemHeight:6,itemGap:8.5,icon:'circle',textStyle:{fontSize:9.2,padding:[0,0,0,0]}});
 legend({data:E_names.slice(3,6),left:341,top:348,orient:'vertical',itemWidth:6,itemHeight:6,itemGap:8.5,icon:'circle',textStyle:{fontSize:9.2,padding:[0,0,0,0]}});
 txt('Subtype',183,328,{fontSize:10});
}
// ================= PANEL F =================
{ const r=catRange(519,540,569,580);
 const ax=addGrid({left:519,top:242,width:61,height:108},
  {type:'value',min:r.min,max:r.max,axisLabel:{show:false},axisTick:{customValues:[1,2]}},
  {type:'value',min:-4,max:4,interval:2,name:'TMB (log2)',nameGap:16,nameTextStyle:{fontSize:10.5}});
 violins(ax,[{pos:1,prof:F_c1_profile,q:F_c1_quart,color:BLUE},{pos:2,prof:F_c2_profile,q:F_c2_quart,color:RED}],8,null,1.6);
 sigSeries(ax,[{x1:1,x2:2,y:4,text:F_sig}],12);
 groupLabels([535,578],362);
}
// ================= PANEL G =================
{ const ax=addGrid({left:644,top:250,width:140,height:98},
  {type:'value',min:0,max:5000,interval:1000,name:'Time (Days)',nameGap:18},
  {type:'value',min:0,max:108,axisLabel:{customValues:[0,50,100]},axisTick:{customValues:[0,50,100]},name:'Overall Survival',nameGap:18,nameTextStyle:{fontSize:11}});
 const cols=['#2323d4','#2eb52e','#f5a3a3','#e2585c'];
 [G_L1,G_L2,G_H1,G_H2].forEach((c,i)=>{
  series.push({type:'line',name:G_names[i],xAxisIndex:ax.x,yAxisIndex:ax.y,step:'end',data:c,showSymbol:false,lineStyle:{color:cols[i],width:1.1},itemStyle:{color:cols[i]},z:3+(i===0?2:0)});
  series.push({type:'scatter',xAxisIndex:ax.x,yAxisIndex:ax.y,data:G_censor[i].map(t=>[t,stepAt(c,t)]),symbol:'rect',symbolSize:[1,4],itemStyle:{color:cols[i]},silent:true});
 });
 legend({data:G_names,left:711,top:229,orient:'vertical',itemWidth:12,itemHeight:6,itemGap:4.2,icon:'path://M0,4L24,4L24,5L0,5ZM11.5,1L12.5,1L12.5,8L11.5,8Z',textStyle:{fontSize:8.5,padding:[0,0,0,0]}});
 txt('{i|p} < '+G_pval,656,333,{fontSize:11,rich:{i:{fontStyle:'italic',fontFamily:SERIF,fontSize:11}}});
}
// ================= PANEL H =================
{ const r=catRange(40,61,90,110);
 const ax=addGrid({left:40,top:457,width:70,height:115},
  {type:'value',min:r.min,max:r.max,axisLabel:{show:false},axisTick:{customValues:[1,2]}},
  {type:'value',min:-0.8,max:0.2,axisLabel:{customValues:H_ticks,formatter:fmt(1)},axisTick:{customValues:H_ticks},name:'TIDE',nameGap:23,nameTextStyle:{fontSize:11}});
 violins(ax,[{pos:1,prof:H_c1_profile,q:H_c1_quart,color:BLUE},{pos:2,prof:H_c2_profile,q:H_c2_quart,color:RED}],8,null,1.6);
 sigSeries(ax,[{x1:1,x2:2,y:0.255,text:H_sig}],12);
 groupLabels([53,96],584);
}
// ================= PANEL I =================
{ const ax=addGrid({left:172,top:480,width:63,height:92},
  {type:'category',data:GROUPS,axisLabel:{show:false},axisTick:{alignWithLabel:true}},
  {type:'value',min:0,max:100,axisLabel:{customValues:I_ticks},axisTick:{customValues:I_ticks},name:'Percentage (%)',nameGap:19,nameTextStyle:{fontSize:10.5}});
 const lab={show:true,position:'inside',formatter:p=>p.value+'%',fontFamily:SERIF,fontSize:8.8,color:'#333'};
 series.push({type:'bar',name:'Responder',stack:'I',xAxisIndex:ax.x,yAxisIndex:ax.y,barWidth:23,data:I_responder,itemStyle:{color:'#bfe6dd'},label:lab});
 series.push({type:'bar',name:'Non-responder',stack:'I',xAxisIndex:ax.x,yAxisIndex:ax.y,barWidth:23,data:I_nonresponder,itemStyle:{color:'#f4b5b9'},label:lab});
 legend({data:['Non-responder','Responder'],left:153,top:441,orient:'vertical',itemWidth:18,itemHeight:9,itemGap:4,icon:'rect',textStyle:{fontSize:10.5,padding:[0,0,0,2]}});
 groupLabels([185,224.5],584);
}
// ================= PANEL J =================
{ const JG=[{L:291,min:5.57,max:10.43},{L:425,min:5.4,max:10.6},{L:557,min:5.4,max:10.6},{L:689,min:4.45,max:10.48}];
 const jc=['#3f72aa','#e84142'];
 JG.forEach((g,k)=>{
  const ax=addGrid({left:g.L,top:450,width:95,height:113},
   {type:'value',min:0,max:95,axisLabel:{show:false},axisTick:{show:false},axisLine:{lineStyle:{color:'#aaa'}}},
   {type:'value',min:g.min,max:g.max,axisLabel:{customValues:J_ticks[k],fontSize:10.5},axisTick:{show:false},axisLine:{lineStyle:{color:'#aaa'}},name:J_names[k],nameGap:13,nameTextStyle:{fontSize:10.5}});
  const groups=[{line:33,prof:J_c1_profile[k],box:J_c1_box[k],pts:J_c1_pts[k],color:jc[0]},{line:76,prof:J_c2_profile[k],box:J_c2_box[k],pts:J_c2_pts[k],color:jc[1]}];
  series.push({type:'custom',xAxisIndex:ax.x,yAxisIndex:ax.y,silent:true,clip:false,z:3,data:groups.map(G=>[G.line,G.box[2]]),
   renderItem:(p,api)=>{const G=groups[p.dataIndex];const base=api.coord([G.line,0])[0];const Y=v=>api.coord([G.line,v])[1];
    const ch=[];
    ch.push({type:'line',shape:{x1:base,y1:Y(G.prof[0][0]),x2:base,y2:Y(G.prof[G.prof.length-1][0])},style:{stroke:'#999',lineWidth:1}});
    ch.push({type:'polygon',shape:{points:G.prof.map(q=>[base+q[1]*20,Y(q[0])]),smooth:0.25},style:{fill:G.color}});
    const bx=base-8,b=G.box;
    ch.push({type:'line',shape:{x1:bx,y1:Y(b[0]),x2:bx,y2:Y(b[4])},style:{stroke:'#888',lineWidth:0.8}});
    G.pts.forEach((v,n)=>{const jx=(((n*0.6180339+0.37)%1)-0.5)*11;ch.push({type:'circle',shape:{cx:bx+jx,cy:Y(v),r:0.9},style:{fill:G.color,opacity:0.75}});});
    ch.push({type:'rect',shape:{x:bx-4,y:Y(b[3]),width:8,height:Y(b[1])-Y(b[3])},style:{fill:G.color,opacity:0.45,stroke:G.color,lineWidth:0.6}});
    ch.push({type:'line',shape:{x1:bx-4,y1:Y(b[2]),x2:bx+4,y2:Y(b[2])},style:{stroke:'#222',lineWidth:1.1}});
    return {type:'group',children:ch};}});
  if(J_sig[k])sigSeries(ax,[{x1:38,x2:67,y:J_sigY[k],text:J_sig[k]}],11);
  if(k===0){dummy('J|'+GROUPS[0],jc[0],ax);dummy('J|'+GROUPS[1],jc[1],ax);}
 });
 legend({data:['J|'+GROUPS[0],'J|'+GROUPS[1]],left:467,top:574,itemWidth:14,itemHeight:9,itemGap:11,icon:'rect',textStyle:{fontFamily:SANS,fontSize:10,padding:[0,0,0,0]}});
}
// ================= PANEL K =================
{ const KG=[{L:38,R:117,b:60,r:100,min:3,max:5,d:1,ng:20},{L:167,R:263,b:195,r:237,min:3.2,max:4.4,d:1,ng:17},{L:290,R:395,b:318,r:366,min:3,max:7,d:0,ng:8},
  {L:425,R:500,b:450,r:490,min:0,max:8,d:0,ng:12},{L:555,R:633,b:580,r:618,min:-6,max:0,d:0,ng:17},{L:685,R:777,b:713,r:752,min:4,max:6,d:1,ng:17}];
 KG.forEach((g,k)=>{
  const r=catRange(g.L,g.b,g.r,g.R);
  const ax=addGrid({left:g.L,top:647,width:g.R-g.L,height:111},
   {type:'value',min:r.min,max:r.max,axisLabel:{show:false},axisTick:{show:false}},
   {type:'value',min:g.min,max:g.max,axisLabel:{customValues:K_ticks[k],formatter:fmt(g.d),fontSize:10},axisTick:{customValues:K_ticks[k]},name:'IC50',nameGap:g.ng,nameTextStyle:{fontSize:10}});
  violins(ax,[{pos:1,prof:K_c1_profile[k],q:K_c1_quart[k],color:BLUE},{pos:2,prof:K_c2_profile[k],q:K_c2_quart[k],color:RED}],14,'#555',1.5);
  sigSeries(ax,[{x1:1.17,x2:1.86,y:K_sigY[k],text:K_sig[k]}],11);
  txt(K_drugs[k],(g.b+g.r)/2+2,633,{fontSize:10,align:'center'});
  if(k===0){dummy('K|'+GROUPS[0],'#fff',ax);dummy('K|'+GROUPS[1],'#fff',ax);}
 });
 legend({data:[{name:'K|'+GROUPS[0],itemStyle:{color:'#fff',borderColor:BLUE,borderWidth:1.5}},{name:'K|'+GROUPS[1],itemStyle:{color:'#fff',borderColor:RED,borderWidth:1.5}}],
  left:328,top:765,itemWidth:13,itemHeight:7,itemGap:26,icon:'rect',textStyle:{fontSize:10.5,padding:[0,0,0,2]}});
}
// ================= PANEL LETTERS =================
[['A',3,2],['B',124,2],['C',318,0],['D',3,184],['E',180,184],['F',491,184],['G',610,184],['H',2,426],['I',133,426],['J',270,426],['K',2,612]]
 .forEach(l=>txt(l[0],l[1],l[2],{fontSize:17,fontWeight:'bold',verticalAlign:'top'}));

const chart=echarts.init(document.getElementById('c'),null,{renderer:'canvas'});
chart.setOption({animation:false,backgroundColor:'#fff',textStyle:{fontFamily:SERIF},
 grid:grids,xAxis:xAxes,yAxis:yAxes,series,legend:legends,graphic:{elements:graphics}});
</script></body></html>
